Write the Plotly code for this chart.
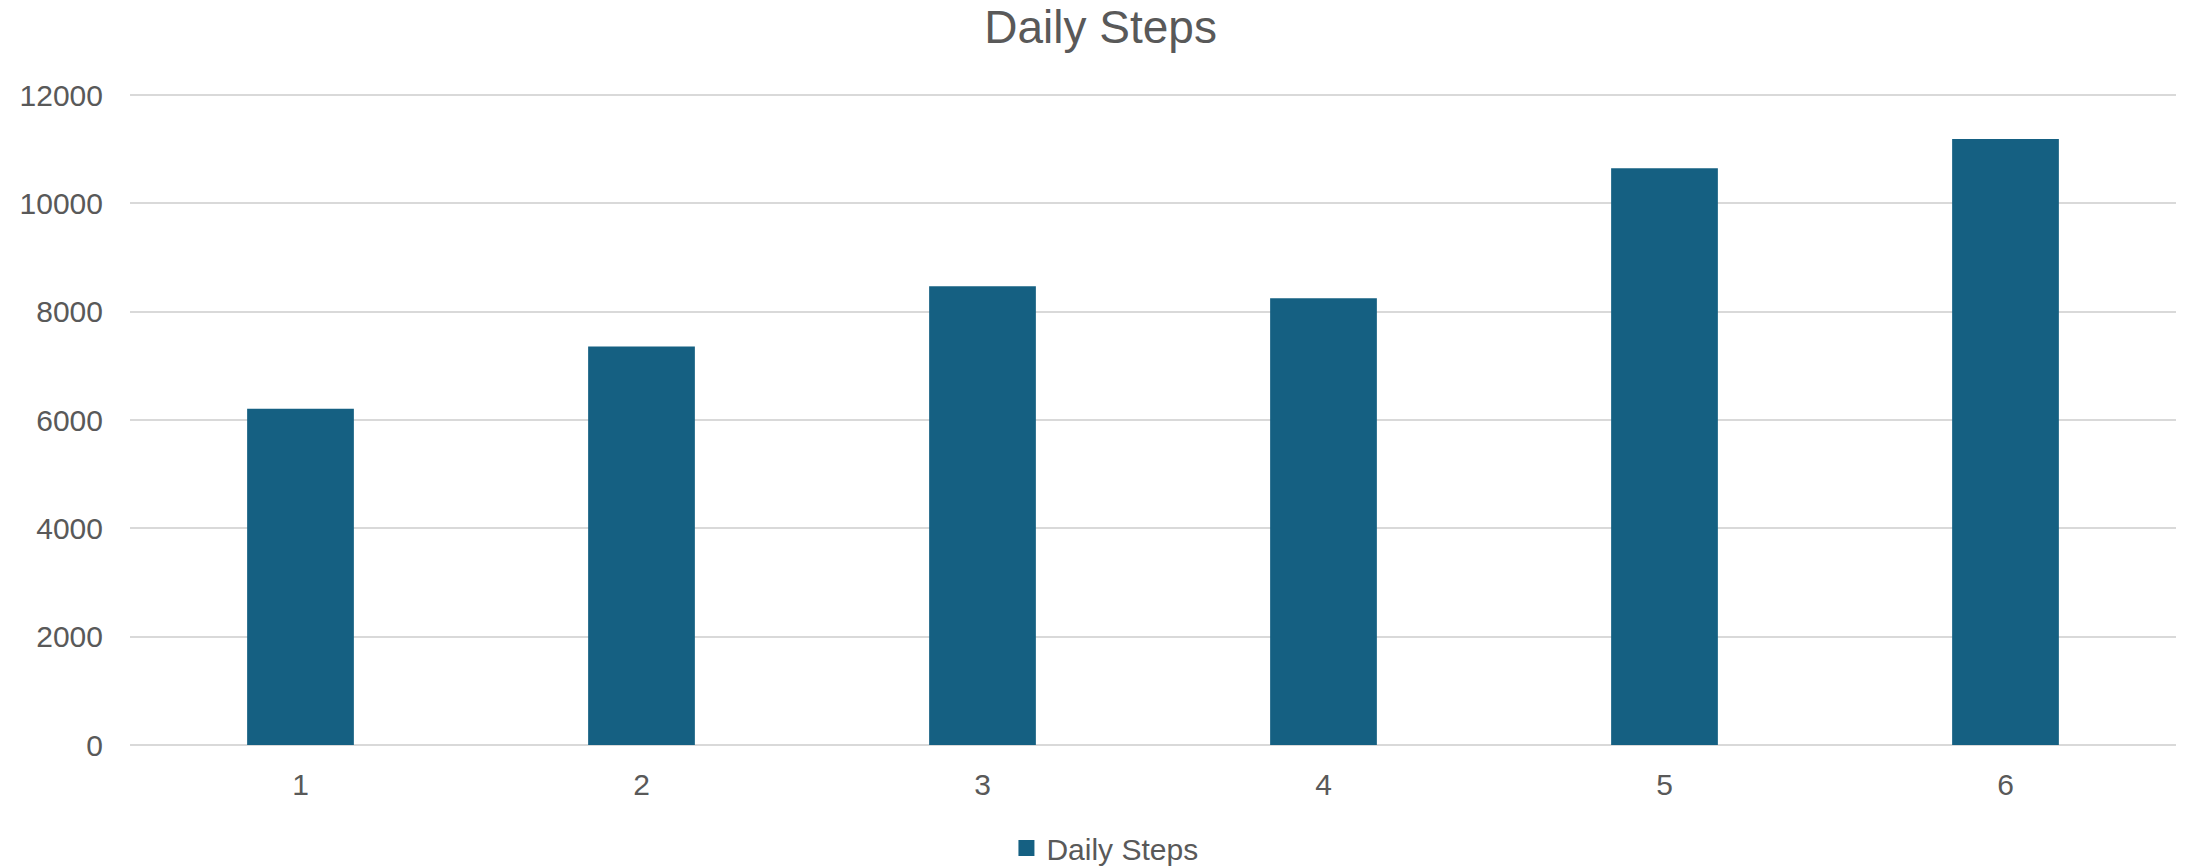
import plotly.graph_objects as go

# Daily step counts for each day
days = ["1", "2", "3", "4", "5", "6"]
steps = [6210, 7360, 8470, 8250, 10650, 11190]

series_name = "Daily Steps"
bar_color = "#156082"
text_color = "#595959"
grid_color = "#D9D9D9"
font_family = "Liberation Sans, Arial, sans-serif"

fig = go.Figure()

fig.add_trace(go.Bar(
    x=days,
    y=steps,
    name=series_name,
    marker=dict(color=bar_color, line=dict(width=0)),
    showlegend=False,
))

# Legend entry with a larger square swatch
fig.add_trace(go.Scatter(
    x=[None],
    y=[None],
    mode="markers",
    name=series_name,
    marker=dict(symbol="square", size=19, color=bar_color),
    showlegend=True,
))

fig.update_layout(
    width=2188,
    height=866,
    margin=dict(l=130, r=12, t=93, b=121),
    paper_bgcolor="white",
    plot_bgcolor="white",
    font=dict(family=font_family, size=30, color=text_color),
    title=dict(
        text="Daily Steps",
        x=0.503,
        xref="container",
        xanchor="center",
        y=1 - 27 / 866,
        yref="container",
        yanchor="middle",
        font=dict(family=font_family, size=46, color=text_color),
    ),
    bargap=0.687,
    legend=dict(
        orientation="h",
        x=0.505,
        xref="container",
        xanchor="center",
        y=1 - 848 / 866,
        yref="container",
        yanchor="middle",
        font=dict(family=font_family, size=30, color=text_color),
    ),
    xaxis=dict(
        type="category",
        showgrid=False,
        showline=False,
        zeroline=False,
        ticks="",
        ticklabelstandoff=19,
        tickfont=dict(size=30, color=text_color),
    ),
    yaxis=dict(
        range=[0, 12040],
        tickvals=[0, 2000, 4000, 6000, 8000, 10000, 12000],
        showgrid=True,
        gridcolor=grid_color,
        gridwidth=2,
        zeroline=True,
        zerolinecolor=grid_color,
        zerolinewidth=2,
        showline=False,
        ticks="",
        ticklabelstandoff=26,
        tickformat="d",
        tickfont=dict(size=30, color=text_color),
    ),
)

fig.write_html("out.html")
